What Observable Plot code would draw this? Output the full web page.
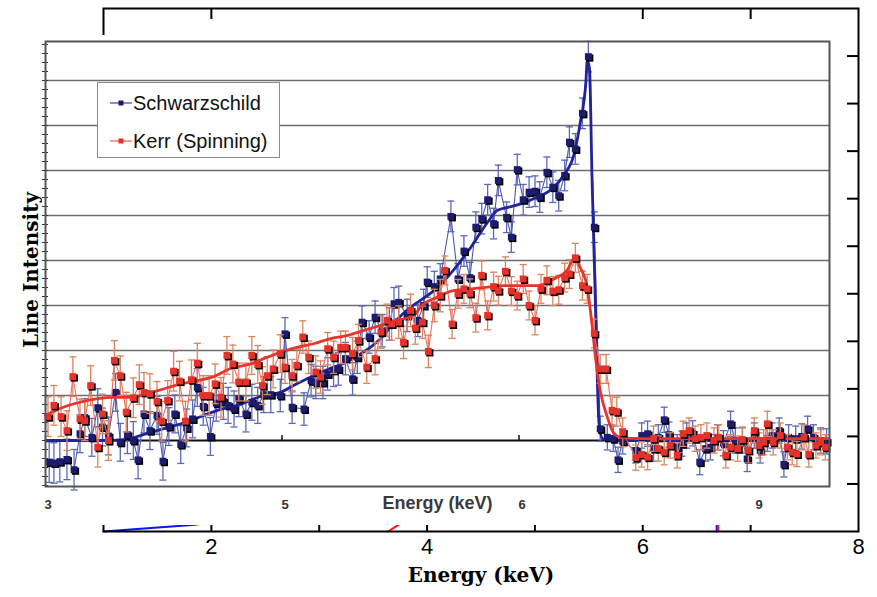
<!DOCTYPE html>
<html>
<head>
<meta charset="utf-8">
<script src="https://cdn.jsdelivr.net/npm/d3@7"></script>
<script src="https://cdn.jsdelivr.net/npm/@observablehq/plot@0.6"></script>
<style>
  body { margin: 0; background: #fff; }
  #wrap { position: relative; width: 877px; height: 597px; overflow: hidden; }
  #outer, #inner, #legend { position: absolute; }
  #outer { left: 0; top: 0; }
  #inner { left: 42px; top: 35px; }
  #legend {
    left: 97px; top: 82px; width: 181px; height: 74px;
    border: 1.5px solid #8a8a8a; background: #fff;
    font-family: "Liberation Sans", Arial, sans-serif; font-size: 20px; color: #111;
  }
  #legend .sw { position: absolute; left: 12px; }
  #legend .lab { position: absolute; left: 35px; line-height: 20px; white-space: nowrap; }
</style>
</head>
<body>
<div id="wrap">
  <div id="outer"></div>
  <div id="inner"></div>
  <div id="legend">
    <svg class="sw" style="top:14px" width="24" height="12"><line x1="0" y1="6" x2="22" y2="6" stroke="#4b4fa6" stroke-width="1.3"/><rect x="8.5" y="3.5" width="5" height="5" fill="#1d1b6e"/></svg>
    <span class="lab" style="top:10px">Schwarzschild</span>
    <svg class="sw" style="top:52px" width="24" height="12"><line x1="0" y1="6" x2="22" y2="6" stroke="#ee6a5c" stroke-width="1.3"/><rect x="8.5" y="3.5" width="5" height="5" fill="#e4312a"/></svg>
    <span class="lab" style="top:48px">Kerr (Spinning)</span>
  </div>
</div>
<script>
// ---- Schwarzschild (non-rotating) line profile: energy (keV), intensity, 1-sigma error
const blueEnergy = [3.01,3.05,3.10,3.16,3.22,3.27,3.31,3.37,3.42,3.46,
  3.51,3.57,3.61,3.67,3.72,3.76,3.81,3.86,3.92,3.97,
  4.02,4.07,4.12,4.17,4.22,4.26,4.31,4.37,4.42,4.48,
  4.52,4.57,4.61,4.67,4.72,4.77,4.82,4.88,4.96,5.00,
  5.06,5.16,5.22,5.26,5.32,5.36,5.41,5.45,5.51,5.57,
  5.61,5.65,5.71,5.76,5.82,5.88,5.92,5.96,6.03,6.12,
  6.17,6.20,6.26,6.31,6.40,6.46,6.51,6.56,6.61,
  6.66,6.71,6.76,6.80,6.87,6.91,6.96,7.01,7.06,7.11,
  7.15,7.21,7.26,7.31,7.36,7.40,7.45,7.51,7.56,7.61,
  7.66,7.72,7.77,7.81,7.85,7.96,8.01,8.06,8.11,8.15,
  8.20,8.24,8.31,8.35,8.39,8.44,8.50,8.55,8.59,8.65,
  8.70,8.76,8.80,8.86,8.90,8.96,9.01,9.07,9.11,9.17,
  9.21,9.25,9.31,9.36,9.41,9.46,9.52,9.57];
const blueIntensity = [-0.48,-0.50,-0.47,-0.42,-0.65,0.15,0.51,0.07,0.73,0.30,
  0.10,1.07,-0.04,0.13,0.00,-0.43,0.59,0.22,0.56,-0.46,
  0.31,0.59,-0.09,0.28,0.48,1.18,0.76,0.09,0.83,0.87,
  0.78,0.70,0.93,0.59,0.85,0.78,1.02,1.02,1.00,2.37,
  0.74,0.70,1.33,1.29,1.29,1.48,1.56,1.59,1.82,1.37,
  1.85,2.63,2.30,2.74,2.44,2.59,3.04,3.07,2.78,2.67,
  3.00,3.52,3.42,3.59,4.98,3.59,4.21,3.62,4.74,
  4.93,5.35,4.82,5.78,4.96,4.52,6.02,5.35,5.52,5.54,
  5.41,5.96,5.63,5.44,5.89,6.63,6.48,7.27,8.53,4.74,
  0.26,0.07,0.04,-0.43,-0.02,-0.22,0.11,0.15,-0.18,0.07,
  0.46,0.13,-0.15,-0.07,0.11,0.16,-0.48,-0.18,-0.15,0.07,
  -0.06,0.37,0.00,0.00,-0.41,0.11,-0.22,0.04,0.11,0.22,
  -0.53,0.07,0.04,0.09,0.26,0.07,0.00,-0.02];
const blueError = [0.45,0.45,0.45,0.45,0.45,0.42,0.42,0.42,0.42,0.42,
  0.42,0.42,0.42,0.42,0.42,0.42,0.42,0.42,0.42,0.42,
  0.42,0.42,0.42,0.42,0.42,0.42,0.42,0.42,0.40,0.40,
  0.40,0.40,0.40,0.40,0.40,0.40,0.40,0.40,0.36,0.36,
  0.36,0.36,0.36,0.36,0.36,0.36,0.36,0.36,0.36,0.36,
  0.36,0.36,0.36,0.36,0.36,0.36,0.36,0.36,0.36,0.36,
  0.36,0.34,0.34,0.34,0.34,0.34,0.34,0.34,0.34,
  0.34,0.34,0.34,0.34,0.34,0.34,0.34,0.34,0.34,0.34,
  0.34,0.34,0.34,0.34,0.34,0.34,0.34,0.34,0.34,0.34,
  0.28,0.28,0.28,0.28,0.28,0.28,0.28,0.28,0.28,0.28,
  0.28,0.28,0.28,0.28,0.28,0.28,0.28,0.28,0.28,0.28,
  0.28,0.28,0.28,0.28,0.28,0.28,0.28,0.28,0.28,0.28,
  0.28,0.28,0.28,0.28,0.28,0.28,0.28,0.28];

// ---- Kerr (spinning) line profile
const redEnergy = [3.00,3.05,3.11,3.16,3.21,3.27,3.31,3.36,3.42,3.46,
  3.51,3.56,3.61,3.66,3.72,3.77,3.81,3.86,3.92,3.96,
  4.01,4.06,4.11,4.16,4.21,4.26,4.31,4.36,4.41,4.46,
  4.51,4.56,4.61,4.67,4.72,4.77,4.81,4.85,4.90,4.96,
  5.00,5.06,5.10,5.15,5.20,5.26,5.30,5.36,5.41,5.47,
  5.51,5.57,5.62,5.69,5.76,5.81,5.86,5.90,5.96,6.00,
  6.06,6.10,6.16,6.21,6.26,6.31,6.35,6.41,6.46,6.51,
  6.56,6.61,6.66,6.71,6.76,6.80,6.86,6.91,6.96,7.01,
  7.06,7.11,7.16,7.21,7.26,7.31,7.36,7.40,7.45,7.51,
  7.55,7.61,7.66,7.71,7.76,7.80,7.85,7.96,8.01,8.06,
  8.11,8.15,8.20,8.25,8.31,8.36,8.41,8.46,8.51,8.56,
  8.62,8.66,8.72,8.76,8.82,8.86,8.91,8.96,9.00,9.04,
  9.07,9.12,9.18,9.24,9.28,9.32,9.38,9.42,9.48,9.52,
  9.56];
const redIntensity = [0.53,0.78,0.53,0.22,1.42,0.48,0.44,1.22,-0.15,0.59,
  0.00,1.78,1.44,0.63,0.95,1.24,1.07,1.04,0.87,0.43,
  0.89,1.54,1.32,0.43,1.35,1.72,1.00,1.00,1.26,0.96,
  1.89,1.70,1.30,1.30,1.89,1.69,1.22,1.44,1.59,1.93,
  1.63,1.44,1.67,2.30,1.85,1.52,1.41,2.04,1.85,2.07,
  2.07,1.93,2.22,1.63,1.82,2.41,2.67,2.59,2.63,2.18,
  2.89,2.50,2.63,1.98,3.00,3.22,3.78,2.59,3.26,3.37,
  3.27,2.73,3.67,2.78,3.42,3.33,3.76,3.32,3.22,3.59,
  3.00,2.67,3.37,3.56,3.32,3.35,3.62,3.70,4.06,3.44,
  3.37,2.38,1.59,1.59,0.67,0.64,0.18,-0.38,-0.31,-0.37,
  0.04,-0.18,-0.26,-0.11,-0.33,0.15,0.22,0.04,0.07,0.11,
  0.00,0.07,-0.33,-0.15,-0.18,0.02,-0.22,0.22,-0.11,-0.04,
  0.37,-0.04,0.11,-0.15,-0.26,-0.30,0.07,-0.31,-0.11,-0.04,
  -0.15];
const redError = [0.44,0.44,0.44,0.44,0.44,0.44,0.44,0.44,0.44,0.44,
  0.44,0.44,0.44,0.44,0.44,0.44,0.44,0.44,0.44,0.44,
  0.44,0.44,0.44,0.44,0.44,0.44,0.44,0.44,0.44,0.44,
  0.42,0.42,0.42,0.42,0.42,0.42,0.42,0.42,0.42,0.42,
  0.36,0.36,0.36,0.36,0.36,0.36,0.36,0.36,0.36,0.36,
  0.36,0.36,0.36,0.36,0.36,0.36,0.36,0.36,0.36,0.36,
  0.36,0.36,0.36,0.36,0.36,0.36,0.32,0.32,0.32,0.32,
  0.32,0.32,0.32,0.32,0.32,0.32,0.32,0.32,0.32,0.32,
  0.32,0.32,0.32,0.32,0.32,0.32,0.32,0.32,0.32,0.32,
  0.32,0.32,0.32,0.32,0.32,0.32,0.32,0.28,0.28,0.28,
  0.28,0.28,0.28,0.28,0.28,0.28,0.28,0.28,0.28,0.28,
  0.28,0.28,0.28,0.28,0.28,0.28,0.28,0.28,0.28,0.28,
  0.28,0.28,0.28,0.28,0.28,0.28,0.28,0.28,0.28,0.28,
  0.28];

// ---- smooth model profiles
const blueModelEnergy = [2.98,3.44,3.65,3.78,3.92,4.03,4.20,4.43,4.60,4.82,
  4.96,5.10,5.24,5.38,5.52,5.64,5.72,5.81,5.89,5.98,
  6.06,6.14,6.28,6.42,6.57,6.71,6.79,6.88,6.99,7.13,
  7.27,7.35,7.44,7.49,7.54,7.55,7.57,7.59,7.62,7.65,
  7.68,7.75,9.59];
const blueModel = [0,0,0.02,0.11,0.22,0.30,0.44,0.67,0.78,1.00,
  1.07,1.26,1.44,1.60,1.74,1.93,2.07,2.27,2.52,2.78,
  2.96,3.11,3.38,3.78,4.30,4.85,5.11,5.18,5.26,5.41,
  5.63,5.89,6.37,7.04,8.00,8.44,8.27,5.93,2.96,0.38,
  0.04,0,0];
const redModelEnergy = [2.98,3.13,3.27,3.42,3.56,3.70,3.84,3.98,4.12,4.26,
  4.40,4.54,4.71,4.82,4.96,5.10,5.24,5.38,5.52,5.66,
  5.81,5.95,6.09,6.14,6.28,6.42,6.57,6.71,6.85,6.99,
  7.13,7.27,7.38,7.45,7.49,7.55,7.59,7.62,7.66,7.72,
  7.77,7.83,8.00,9.59];
const redModel = [0.56,0.74,0.85,0.93,0.96,0.96,1.04,1.15,1.26,1.33,
  1.42,1.60,1.70,1.82,1.96,2.07,2.15,2.26,2.33,2.44,
  2.56,2.67,2.78,2.96,3.18,3.33,3.37,3.41,3.44,3.44,
  3.44,3.59,3.78,4.07,3.85,3.41,2.59,1.85,1.11,0.52,
  0.18,0.07,0.04,0.04];

// ---- axes of the spectrum panel
const innerTickValues = [3, 5, 7, 9];
const innerTickLabels = ["3", "5", "6", "9"];
const innerBaseTicks = [5, 7, 9];
const gridLevels = [1, 2, 3, 4, 5, 6, 7, 8];
const innerMinorTicks = d3.range(-1, 8.81, 0.2);

// ---- enclosing axes
const outerBottomTicks = [2, 3, 4, 5, 6, 7];
const outerTopTicks = [2, 6, 7];
const outerRightTicks = [0, 1, 2, 3, 4, 5, 6, 7, 8, 9];
const outerTickLabels = [2, 4, 6, 8];
const outerBlueEnergy = [1.0, 1.85, 2.6, 6.68, 6.685];
const outerBlueIntensity = [-1, -0.86, -0.5, 7, -1];
const outerRedEnergy = [3.64, 3.74, 6.69, 6.70];
const outerRedIntensity = [-1, -0.85, 6, -1];

const COL = {
  bluePt: "#1d1b6e", blueErr: "#5b69b9", blueThin: "#5258ad", blueModel: "#24249a",
  redPt: "#e4312a", redErr: "#db855e", redThin: "#ef6d5e", redModel: "#e6352c"
};

const rows = (E, V, S) => E.map((e, i) => ({e, v: V[i], s: S ? S[i] : 0}));
const blue = rows(blueEnergy, blueIntensity, blueError);
const red = rows(redEnergy, redIntensity, redError);
const blueFit = rows(blueModelEnergy, blueModel);
const redFit = rows(redModelEnergy, redModel);

// horizontal bar used as the error-bar cap
const cap = {draw(ctx, size) { const w = Math.sqrt(size); ctx.moveTo(-w, 0); ctx.lineTo(w, 0); }};

function seriesMarks(data, fit, errColor, thinColor, fitColor, ptColor) {
  return [
    Plot.ruleX(data, {x: "e", y1: d => d.v - d.s, y2: d => d.v + d.s, stroke: errColor, strokeWidth: 1.3}),
    Plot.dot(data, {x: "e", y: d => d.v + d.s, symbol: cap, r: 2, stroke: errColor, strokeWidth: 1.3, fill: "none"}),
    Plot.dot(data, {x: "e", y: d => d.v - d.s, symbol: cap, r: 2, stroke: errColor, strokeWidth: 1.3, fill: "none"}),
    Plot.line(data, {x: "e", y: "v", stroke: thinColor, strokeWidth: 1.1}),
    Plot.line(fit, {x: "e", y: "v", stroke: fitColor, strokeWidth: 2.8, curve: "monotone-x"}),
    Plot.dot(data, {x: "e", y: "v", symbol: "square", r: 4.1, fill: "#000", dx: 1.4, dy: 1.4}),
    Plot.dot(data, {x: "e", y: "v", symbol: "square", r: 3.9, fill: ptColor})
  ];
}

// ---- enclosing frame, ticks and titles
const outer = Plot.plot({
  width: 877, height: 597,
  marginLeft: 103, marginRight: 19, marginTop: 8, marginBottom: 66,
  x: {domain: [1, 8], axis: null},
  y: {domain: [-1, 10], axis: null},
  style: {background: "#fff", maxWidth: "none"},
  marks: [
    Plot.line(outerBlueEnergy.map((e, i) => ({e, v: outerBlueIntensity[i]})), {x: "e", y: "v", stroke: "#1010ff", strokeWidth: 2}),
    Plot.line(outerRedEnergy.map((e, i) => ({e, v: outerRedIntensity[i]})), {x: "e", y: "v", stroke: "#ff1010", strokeWidth: 2}),
    Plot.frame({stroke: "#000", strokeWidth: 2}),
    Plot.tickX(outerBottomTicks, {x: d => d, insetTop: 512, stroke: "#000", strokeWidth: 2}),
    Plot.tickX(outerTopTicks, {x: d => d, insetBottom: 512, stroke: "#000", strokeWidth: 2}),
    Plot.tickY(outerRightTicks, {y: d => d, insetLeft: 744, stroke: "#000", strokeWidth: 2}),
    Plot.text(outerTickLabels, {x: d => d, text: d => String(d), frameAnchor: "bottom", dy: 22,
      fontSize: 22, fontFamily: "Liberation Sans, Arial, sans-serif", fill: "#000"}),
    Plot.text(["Energy (keV)"], {frameAnchor: "bottom", dy: 50, fontSize: 20, fontWeight: "bold",
      fontFamily: "DejaVu Serif, serif", fill: "#000", letterSpacing: 2.8}),
    Plot.text(["Line Intensity"], {frameAnchor: "left", textAnchor: "middle", dx: -72, rotate: -90, fontSize: 20,
      fontWeight: "bold", fontFamily: "DejaVu Serif, serif", fill: "#000", letterSpacing: 2.5})
  ]
});
document.getElementById("outer").append(outer);

// ---- spectrum panel
const inner = Plot.plot({
  width: 804, height: 490,
  marginLeft: 3, marginRight: 17, marginTop: 6, marginBottom: 39,
  x: {domain: [3, 9], range: [5.5, 716.5], axis: null},
  y: {domain: [0, 8], range: [405, 45], axis: null},
  style: {background: "#fff", maxWidth: "none"},
  marks: [
    Plot.ruleY(gridLevels, {y: d => d, stroke: "#6e6e6e", strokeWidth: 1.4}),
    Plot.ruleY([0], {y: d => d, stroke: "#111", strokeWidth: 2}),
    Plot.tickX(innerBaseTicks, {x: d => d, insetTop: 394, insetBottom: 46, dx: -3, stroke: "#111", strokeWidth: 1.5}),
    Plot.tickY(innerMinorTicks, {y: d => d, insetRight: 778, dx: -3, stroke: "#333", strokeWidth: 1}),
    ...seriesMarks(blue, blueFit, COL.blueErr, COL.blueThin, COL.blueModel, COL.bluePt),
    ...seriesMarks(red, redFit, COL.redErr, COL.redThin, COL.redModel, COL.redPt),
    Plot.frame({stroke: "#555", strokeWidth: 2}),
    Plot.text(innerTickValues, {x: d => d, text: (d, i) => innerTickLabels[i], frameAnchor: "bottom", dy: 22,
      fontSize: 13, fontWeight: "bold", fill: "#333", fontFamily: "Liberation Sans, Arial, sans-serif"}),
    Plot.text(["Energy (keV)"], {frameAnchor: "bottom", dy: 22, fontSize: 18, fontWeight: "bold",
      fill: "#3a3a3a", fontFamily: "Liberation Sans, Arial, sans-serif"})
  ]
});
document.getElementById("inner").append(inner);
</script>
</body>
</html>
